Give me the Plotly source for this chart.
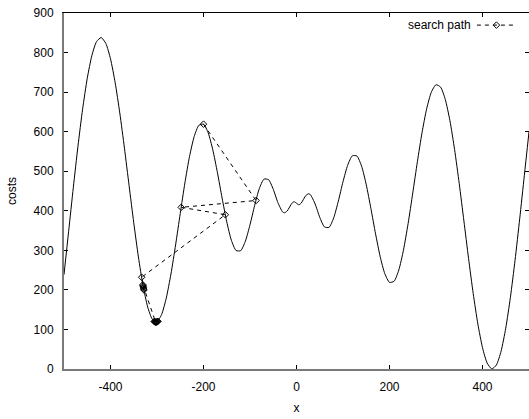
import plotly.graph_objects as go

# Cost landscape sampled along x
curve_x = list(range(-500, 501, 10))
curve_y = [
    238.4, 348.4, 458.5, 563.1, 656.9, 734.9, 792.9, 827.7, 837.9, 823.0,   # -500 .. -410
    784.2, 724.2, 647.2, 558.2, 463.6, 369.7, 283.3, 210.5, 156.7, 125.6,   # -400 .. -310
    119.3, 138.0, 179.6, 240.2, 313.8, 393.2, 470.5, 537.7, 587.9, 616.0,   # -300 .. -210
    619.0, 597.3, 554.2, 496.3, 432.2, 372.0, 325.2, 299.6, 299.1, 322.9,   # -200 .. -110
    364.6, 413.4, 456.0, 480.0, 478.6, 454.4, 420.6, 397.3, 399.6, 418.8,   # -100 .. -10
    419.0,                                                                  # 0
    419.2, 438.4, 440.6, 417.3, 383.5, 359.3, 358.0, 382.0, 424.6, 473.4,   # 10 .. 100
    515.1, 538.9, 538.4, 512.8, 466.0, 405.8, 341.7, 283.8, 240.7, 219.0,   # 110 .. 200
    222.0, 250.1, 300.3, 367.5, 444.8, 524.2, 597.8, 658.4, 700.0, 718.7,   # 210 .. 300
    712.4, 681.3, 627.5, 554.7, 468.3, 374.4, 279.8, 190.8, 113.8, 53.8,    # 310 .. 400
    15.0, 0.1, 10.3, 45.1, 103.1, 181.1, 274.9, 379.5, 489.6, 599.6,        # 410 .. 500
]
# extra samples around the small ripples near the origin
extra_x = [-26, -5, 5, 26]
extra_y = [394.9, 422.9, 415.1, 443.1]
pts = sorted(zip(curve_x + extra_x, curve_y + extra_y))
curve_x = [p[0] for p in pts]
curve_y = [p[1] for p in pts]

# Visited points of the search
path_x = [-200, -87, -248, -153, -333,
          -329, -328, -330, -329.5, -328.5, -330.5,
          -303, -302, -304, -301, -305, -300, -306, -299, -298, -302.5]
path_y = [619.0, 426.0, 408.7, 390.0, 232.0,
          205.0, 199.7, 210.5, 208.0, 202.0, 213.0,
          118.5, 118.5, 118.8, 118.7, 119.5, 119.3, 120.3, 119.9, 120.6, 118.5]

x_ticks = [-400, -200, 0, 200, 400]
y_ticks = [0, 100, 200, 300, 400, 500, 600, 700, 800, 900]

FONT = "Liberation Sans, Arial, sans-serif"
DASH = "4px,4px"

fig = go.Figure()

fig.add_trace(go.Scatter(
    x=curve_x, y=curve_y, mode="lines",
    line=dict(color="black", width=1, shape="spline", smoothing=0.6),
    showlegend=False, hoverinfo="skip",
))

fig.add_trace(go.Scatter(
    x=path_x, y=path_y, mode="lines+markers", name="search path",
    line=dict(color="black", width=1, dash=DASH),
    marker=dict(symbol="diamond-open", size=5, color="black",
                line=dict(color="black", width=1)),
    showlegend=False,
))

# mirror axes (top / right) carry only the inward ticks
fig.add_trace(go.Scatter(x=[None], y=[None], xaxis="x2", yaxis="y2",
                         showlegend=False, hoverinfo="skip"))

# legend key drawn to the right of its label
fig.add_trace(go.Scatter(
    x=[0.888, 0.930, 0.972], y=[0.966, 0.966, 0.966],
    xaxis="x3", yaxis="y3", mode="lines",
    line=dict(color="black", width=1, dash=DASH),
    showlegend=False, hoverinfo="skip",
))
fig.add_trace(go.Scatter(
    x=[0.930], y=[0.966], xaxis="x3", yaxis="y3", mode="markers",
    marker=dict(symbol="diamond-open", size=5, color="black",
                line=dict(color="black", width=1)),
    showlegend=False, hoverinfo="skip",
))

axis_font = dict(family=FONT, size=12, color="black")

fig.update_layout(
    width=529, height=419,
    margin=dict(l=64, r=0, t=13, b=50),
    paper_bgcolor="white", plot_bgcolor="white",
    font=axis_font,
    showlegend=False,
    xaxis=dict(
        range=[-500, 500], tickvals=x_ticks, ticktext=[str(v) for v in x_ticks],
        showgrid=False, zeroline=False,
        showline=True, linecolor="#7a7a7a", linewidth=2,
        ticks="inside", ticklen=4, tickcolor="black", tickwidth=1,
        tickfont=axis_font, ticklabelstandoff=6,
        title=dict(text="x", font=axis_font, standoff=10),
    ),
    yaxis=dict(
        range=[0, 900], tickvals=y_ticks, ticktext=[str(v) for v in y_ticks],
        showgrid=False, zeroline=False,
        showline=True, linecolor="#7a7a7a", linewidth=2,
        ticks="inside", ticklen=4, tickcolor="black", tickwidth=1,
        tickfont=axis_font, ticklabelstandoff=6,
        title=dict(text="costs", font=axis_font, standoff=14),
    ),
    xaxis2=dict(
        overlaying="x", side="top", anchor="y2", range=[-500, 500],
        tickvals=x_ticks, showticklabels=False, showgrid=False, zeroline=False,
        showline=True, linecolor="black", linewidth=1,
        ticks="inside", ticklen=4, tickcolor="black", tickwidth=1,
    ),
    yaxis2=dict(
        overlaying="y", side="right", anchor="x2", range=[0, 900],
        tickvals=y_ticks, showticklabels=False, showgrid=False, zeroline=False,
        showline=False,
        ticks="inside", ticklen=4, tickcolor="black", tickwidth=1,
    ),
    xaxis3=dict(overlaying="x", range=[0, 1], visible=False, anchor="y3"),
    yaxis3=dict(overlaying="y", range=[0, 1], visible=False, anchor="x3"),
    annotations=[dict(
        text="search path", xref="paper", yref="paper",
        x=0.8798, y=0.966, xanchor="right", yanchor="middle",
        showarrow=False, font=axis_font,
    )],
)

fig.write_html("out.html")
